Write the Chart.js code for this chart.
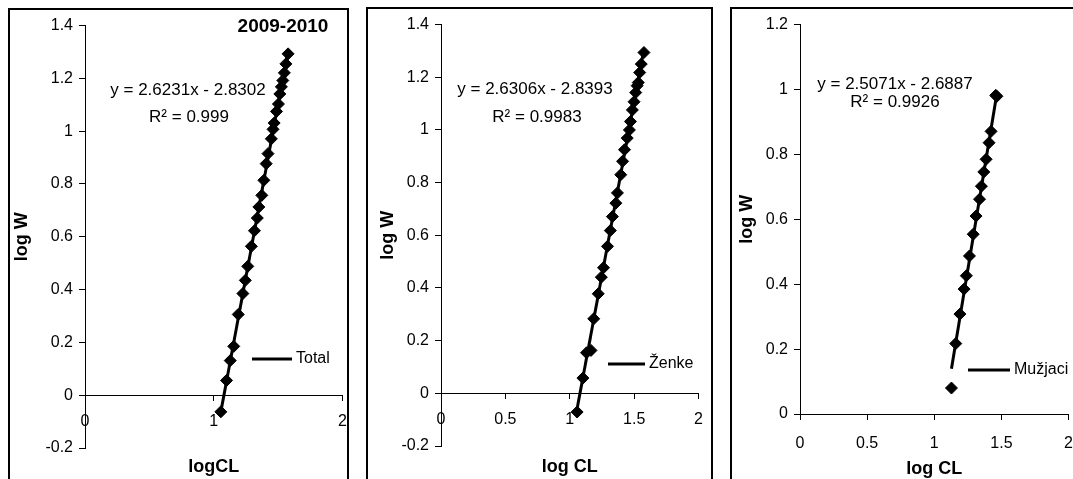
<!DOCTYPE html>
<html><head><meta charset="utf-8">
<script src="https://cdn.jsdelivr.net/npm/chart.js@4.4.1/dist/chart.umd.min.js"></script>
<style>
html,body{margin:0;padding:0;background:#fff;overflow:hidden;width:1073px;height:479px;}
.frame{position:absolute;border:2px solid #000;box-sizing:border-box;}
canvas{position:absolute;}
</style></head><body>
<div class="frame" style="left:8px;top:8px;width:341px;height:500px"></div>
<div class="frame" style="left:366px;top:7px;width:347px;height:500px"></div>
<div class="frame" style="left:730px;top:7px;width:360px;height:500px"></div>
<canvas id="c1" width="349" height="469" style="left:10px;top:10px"></canvas>
<canvas id="c2" width="347" height="470" style="left:368px;top:9px"></canvas>
<canvas id="c3" width="356" height="470" style="left:732px;top:9px"></canvas>
<script>
// ---- data ----
const seriesNames = ['Total', 'Ženke', 'Mužjaci'];
const panelTitle = '2009-2010';
const xAxisTitles = ['logCL', 'log CL', 'log CL'];
const yAxisTitle = 'log W';

const totalLogCL = [1.055,1.099,1.128,1.155,1.19,1.226,1.245,1.264,1.292,1.316,1.338,1.35,1.373,1.389,1.407,1.421,1.447,1.46,1.469,1.487,1.502,1.513,1.525,1.536,1.548,1.56,1.577];
const totalLogW  = [-0.063,0.056,0.131,0.185,0.306,0.385,0.435,0.488,0.564,0.623,0.671,0.713,0.757,0.814,0.877,0.915,0.971,1.007,1.031,1.075,1.103,1.141,1.168,1.192,1.221,1.255,1.293];

const zenkeLogCL = [1.057,1.102,1.13,1.165,1.186,1.221,1.245,1.262,1.293,1.315,1.331,1.358,1.37,1.396,1.41,1.425,1.446,1.463,1.471,1.486,1.499,1.512,1.523,1.532,1.543,1.555,1.576];
const zenkeLogW  = [-0.071,0.058,0.154,0.163,0.283,0.378,0.441,0.477,0.558,0.618,0.671,0.722,0.761,0.830,0.881,0.925,0.969,1.000,1.032,1.076,1.107,1.142,1.168,1.180,1.218,1.250,1.294];

const muzjaciLogCL = [1.128,1.16,1.191,1.222,1.239,1.262,1.29,1.311,1.337,1.351,1.369,1.386,1.408,1.423,1.458,1.466];
const muzjaciLogW  = [0.08,0.217,0.308,0.385,0.426,0.487,0.554,0.610,0.662,0.702,0.746,0.785,0.836,0.871,0.982,0.979];

const trendSlopes = [2.6231, 2.6306, 2.5071];
const trendIntercepts = [-2.8302, -2.8393, -2.6887];
const equationTexts = ['y = 2.6231x - 2.8302', 'y = 2.6306x - 2.8393', 'y = 2.5071x - 2.6887'];
const r2Texts = ['R² = 0.999', 'R² = 0.9983', 'R² = 0.9926'];

const xTicksA = [0, 1, 2];
const xTickLabelsA = ['0', '1', '2'];
const xTicksB = [0, 0.5, 1, 1.5, 2];
const xTickLabelsB = ['0', '0.5', '1', '1.5', '2'];
const yTicksA = [-0.2, 0, 0.2, 0.4, 0.6, 0.8, 1, 1.2, 1.4];
const yTickLabelsA = ['-0.2', '0', '0.2', '0.4', '0.6', '0.8', '1', '1.2', '1.4'];
const yTicksB = [0, 0.2, 0.4, 0.6, 0.8, 1, 1.2];
const yTickLabelsB = ['0', '0.2', '0.4', '0.6', '0.8', '1', '1.2'];

// ---- chart building ----
Chart.defaults.font.family = "'Liberation Sans', Arial, sans-serif";
Chart.defaults.color = '#000';
const FONT = "'Liberation Sans', Arial, sans-serif";

function makePanel(id, p) {
  const xs = p.xs, ys = p.ys;
  const minX = Math.min(...xs), maxX = Math.max(...xs);
  const trend = [minX, maxX].map(x => ({x: x, y: p.slope * x + p.intercept}));
  const annot = {
    id: 'annot' + id,
    afterDraw(chart) {
      const ctx = chart.ctx;
      ctx.save();
      ctx.fillStyle = '#000';
      ctx.textBaseline = 'middle';
      for (const t of p.texts) {
        ctx.font = t.font;
        ctx.textAlign = t.align || 'center';
        ctx.fillText(t.text, t.x, t.y);
      }
      const L = p.legend;
      ctx.strokeStyle = '#000';
      ctx.lineWidth = 3;
      ctx.beginPath();
      ctx.moveTo(L.x1, L.y);
      ctx.lineTo(L.x2, L.y);
      ctx.stroke();
      ctx.font = '16px ' + FONT;
      ctx.textAlign = 'left';
      ctx.fillText(L.text, L.x2 + 4, L.y);
      ctx.restore();
    }
  };
  return new Chart(document.getElementById(id), {
    type: 'scatter',
    data: {
      datasets: [
        {label: p.name + ' trend', data: trend, showLine: true, borderColor: '#000', borderWidth: 3,
         pointRadius: 0, fill: false, order: 2},
        {label: p.name, data: xs.map((x, i) => ({x: x, y: ys[i]})), showLine: false,
         pointStyle: 'rectRot', pointRadius: 6, pointHoverRadius: 6,
         backgroundColor: '#000', borderColor: '#000', borderWidth: 1, order: 1}
      ]
    },
    options: {
      responsive: false, animation: false, devicePixelRatio: 1,
      layout: {padding: p.pad},
      plugins: {legend: {display: false}, tooltip: {enabled: false}},
      scales: {
        x: {
          type: 'linear', min: 0, max: 2, position: {y: 0},
          afterBuildTicks: s => { s.ticks = p.xTicks.map(v => ({value: v})); },
          ticks: {callback: (v, i) => p.xLabels[i], font: {size: 16}, color: '#000',
                  padding: p.xTickPad, maxRotation: 0, autoSkip: false},
          grid: {display: true, drawOnChartArea: false, drawTicks: true, tickLength: 5, color: '#000'},
          border: {display: true, color: '#000', width: 1},
          title: {display: true, text: p.xTitle, font: {size: 18, weight: 'bold'}, color: '#000',
                  padding: {top: p.xTitlePad, bottom: 0}}
        },
        y: {
          type: 'linear', min: p.yTicks[0], max: p.yTicks[p.yTicks.length - 1], position: 'left',
          afterBuildTicks: s => { s.ticks = p.yTicks.map(v => ({value: v})); },
          afterFit: s => { s.width = p.yWidth; },
          ticks: {callback: (v, i) => p.yLabels[i], font: {size: 16}, color: '#000', padding: 6, autoSkip: false},
          grid: {display: true, drawOnChartArea: false, drawTicks: true, tickLength: 6, color: '#000'},
          border: {display: true, color: '#000', width: 1},
          title: {display: true, text: yAxisTitle, font: {size: 18, weight: 'bold'}, color: '#000',
                  padding: {top: p.yTitlePad, bottom: 0}}
        }
      }
    },
    plugins: [annot]
  });
}

makePanel('c1', {
  name: seriesNames[0], xs: totalLogCL, ys: totalLogW,
  slope: trendSlopes[0], intercept: trendIntercepts[0],
  xTicks: xTicksA, xLabels: xTickLabelsA, yTicks: yTicksA, yLabels: yTickLabelsA,
  xTitle: xAxisTitles[0],
  pad: {left: 0, top: 15, right: 5, bottom: 31},
  yWidth: 75, yTitlePad: 1, xTickPad: 12, xTitlePad: 13,
  texts: [
    {text: panelTitle, x: 273, y: 17, font: 'bold 19px ' + FONT},
    {text: equationTexts[0], x: 178, y: 80, font: '17px ' + FONT},
    {text: r2Texts[0], x: 179, y: 107, font: '17px ' + FONT}
  ],
  legend: {x1: 242, x2: 282, y: 349, text: seriesNames[0]}
});

makePanel('c2', {
  name: seriesNames[1], xs: zenkeLogCL, ys: zenkeLogW,
  slope: trendSlopes[1], intercept: trendIntercepts[1],
  xTicks: xTicksB, xLabels: xTickLabelsB, yTicks: yTicksA, yLabels: yTickLabelsA,
  xTitle: xAxisTitles[1],
  pad: {left: 0, top: 15, right: 5, bottom: 33},
  yWidth: 73, yTitlePad: 9, xTickPad: 12, xTitlePad: 15,
  texts: [
    {text: equationTexts[1], x: 167, y: 80, font: '17px ' + FONT},
    {text: r2Texts[1], x: 169, y: 108, font: '17px ' + FONT}
  ],
  legend: {x1: 240, x2: 277, y: 355, text: seriesNames[1]}
});

makePanel('c3', {
  name: seriesNames[2], xs: muzjaciLogCL, ys: muzjaciLogW,
  slope: trendSlopes[2], intercept: trendIntercepts[2],
  xTicks: xTicksB, xLabels: xTickLabelsB, yTicks: yTicksB, yLabels: yTickLabelsB,
  xTitle: xAxisTitles[2],
  pad: {left: 0, top: 15, right: 5, bottom: 65},
  yWidth: 68, yTitlePad: 4, xTickPad: 15, xTitlePad: -10,
  texts: [
    {text: equationTexts[2], x: 163, y: 75, font: '17px ' + FONT},
    {text: r2Texts[2], x: 163, y: 93, font: '17px ' + FONT}
  ],
  legend: {x1: 236, x2: 278, y: 361, text: seriesNames[2]}
});
</script>
</body></html>
